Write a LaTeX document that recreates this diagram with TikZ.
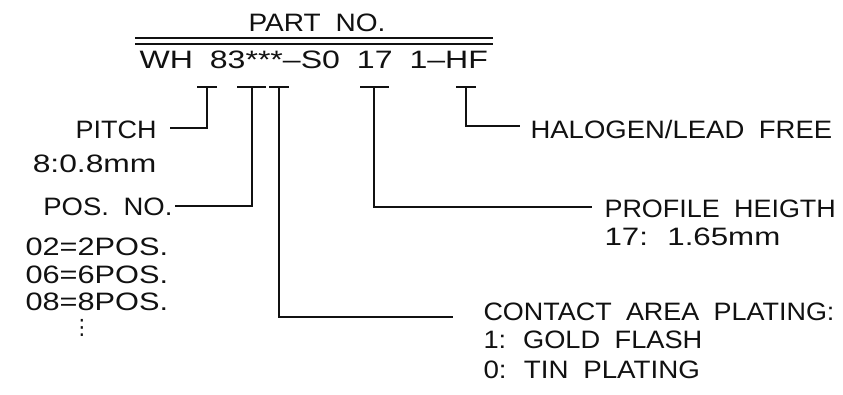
\documentclass[tikz,border=0pt]{standalone}
\usepackage{fontspec}
\setmainfont[FakeStretch=1.07,WordSpace=1.9]{Liberation Sans}
\newfontfamily\symfont{DejaVu Sans}
\usetikzlibrary{positioning}
\definecolor{ink}{HTML}{111111}
\newcommand{\widen}[2]{\scalebox{#1}[1]{#2}}

\begin{document}
\begin{tikzpicture}[x=0.03cm,y=-0.03cm,line width=0.9pt,draw=ink,
    lbl/.style={inner sep=0pt,text=ink,font=\fontsize{21.5}{25}\selectfont}]
  \useasboundingbox (0,0) rectangle (843,395);
  % heading and code
  \node[lbl,anchor=base] (title) at (317,32) {\widen{1.04}{PART NO.}};
  \draw (135,38) -- (493,38) (135,44) -- (493,44);
  \node[lbl,anchor=base west] (code) at (139,69) {\widen{1.19}{WH 83***–S0 17 1–HF}};
  % tick marks and leaders
  \foreach \n/\a/\b/\s/\ex/\ey in {pitch/197/217/207/170/128,pos/237/266/252/175/206,
      plate/269/289/279/453/317,prof/360/389/374/592/207,hf/456/476/466/520/126}{
    \draw (\a,87) -- (\b,87);
    \coordinate (t\n) at (\s,87);
    \coordinate (e\n) at (\ex,\ey);
    \draw (t\n) |- (e\n);
  }
  % left side
  \node[lbl,anchor=base east] (pitch) at (157,138) {PITCH};
  \node[lbl,anchor=base east] (pitchval) at (157,172) {\widen{1.18}{8:0.8mm}};
  \node[lbl,anchor=base east] (posno) at (173,215) {\widen{1.02}{POS. NO.}};
  \foreach \k/\y in {2/255,6/283,8/310}
    \node[lbl,anchor=base west] (pos\k) at (25,\y) {\widen{1.14}{0\k=\k POS.}};
  \node[lbl,font=\symfont\fontsize{18}{18}\selectfont] (more) at (82,328) {⋮};
  % right side
  \node[lbl,anchor=base west] (hf) at (530,138) {\widen{1.02}{HALOGEN/LEAD FREE}};
  \node[lbl,anchor=base west] (prof) at (604,217) {PROFILE HEIGTH};
  \node[lbl,anchor=base west] (profval) at (604,245) {\widen{1.16}{17: 1.65mm}};
  \node[lbl,anchor=base west] (plate) at (483,320) {CONTACT AREA PLATING:};
  \node[lbl,anchor=base west] (gold) at (483,348) {\widen{1.01}{1: GOLD FLASH}};
  \node[lbl,anchor=base west] (tin) at (483,378) {\widen{1.03}{0: TIN PLATING}};
\end{tikzpicture}
\end{document}
